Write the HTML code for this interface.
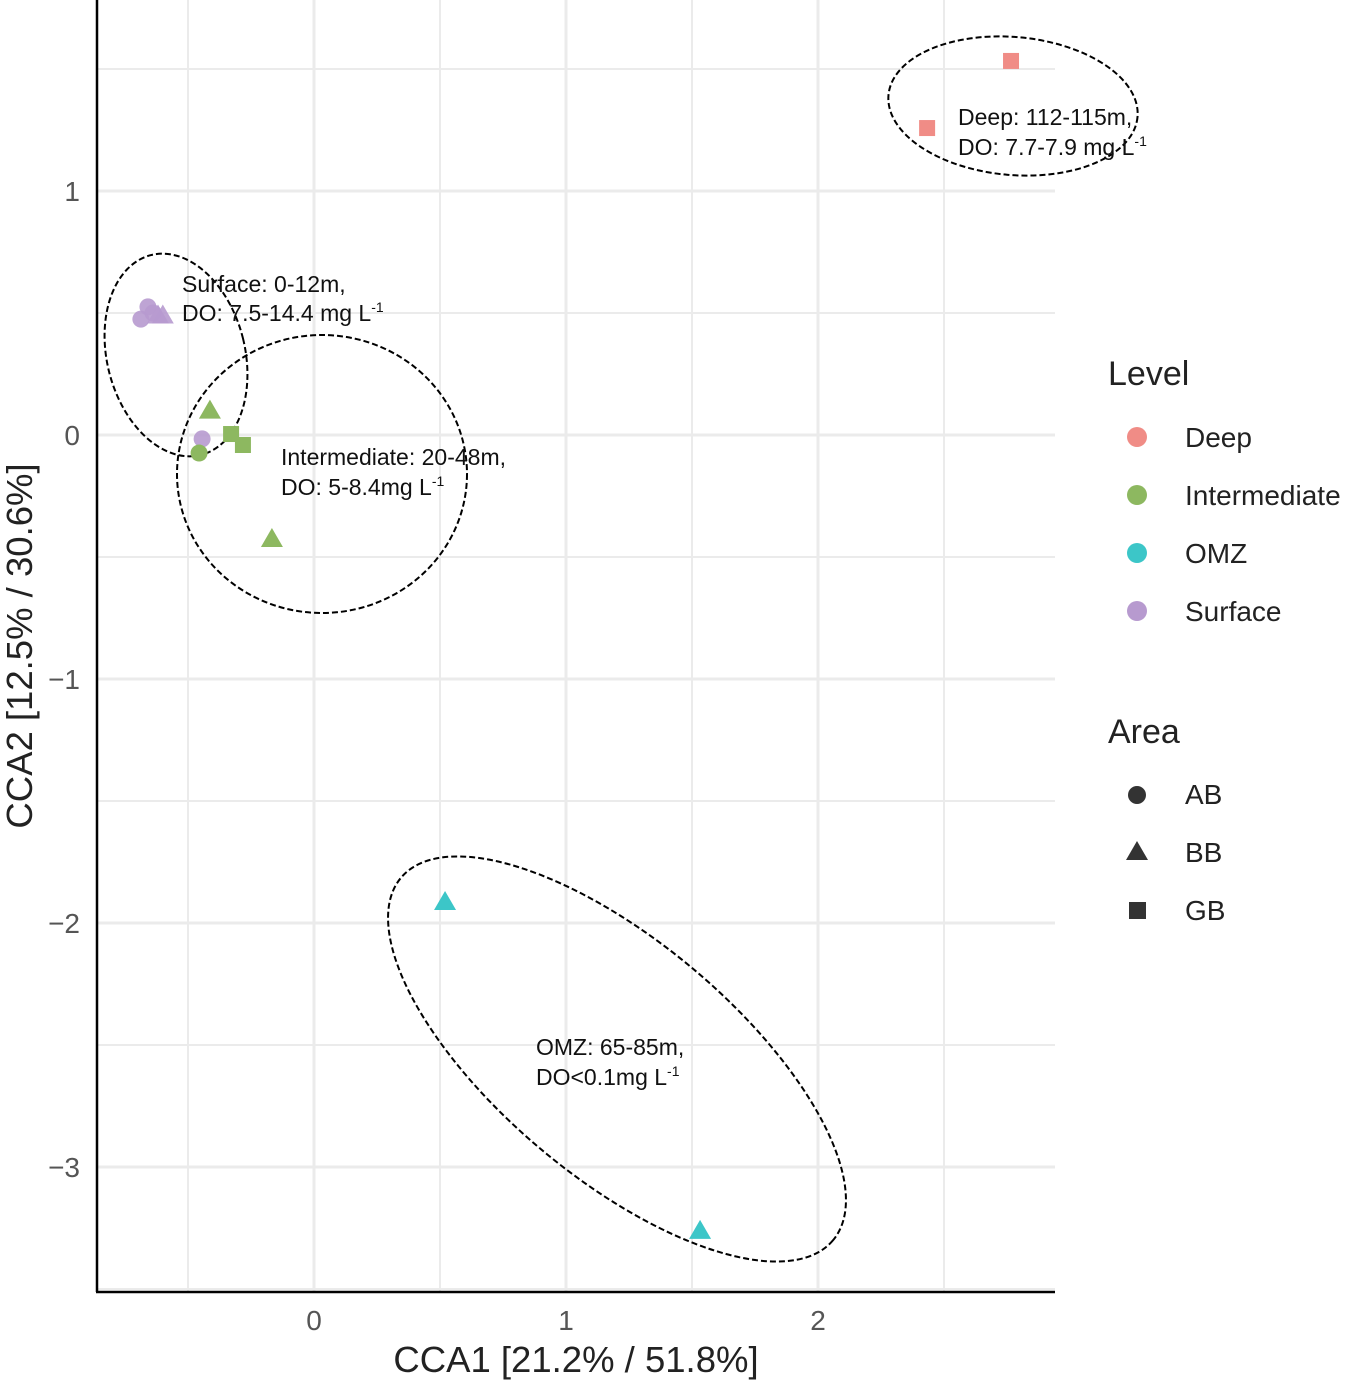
<!DOCTYPE html>
<html><head><meta charset="utf-8"><style>
body{margin:0;background:#fff;}
svg text{font-family:"Liberation Sans",Arial,sans-serif;}
</style></head><body>
<svg id="chart" width="1355" height="1383" viewBox="0 0 1355 1383">
<g id="grid"></g>
<g id="ell">
<ellipse cx="1013" cy="106" rx="125" ry="69" transform="rotate(5 1013 106)" fill="none" stroke="#000" stroke-width="2" stroke-dasharray="6,3"/>
<ellipse cx="176" cy="355" rx="69" ry="103" transform="rotate(-14 176 355)" fill="none" stroke="#000" stroke-width="2" stroke-dasharray="6,3"/>
<ellipse cx="322" cy="474" rx="145" ry="139" fill="none" stroke="#000" stroke-width="2" stroke-dasharray="6,3"/>
<ellipse cx="617" cy="1059" rx="282" ry="118" transform="rotate(40 617 1059)" fill="none" stroke="#000" stroke-width="2" stroke-dasharray="6,3"/>
</g>
<g id="pts"></g>
<g font-size="23" fill="#111">
<text x="958" y="125">Deep: 112-115m,</text>
<text x="958" y="155">DO: 7.7-7.9 mg L<tspan font-size="14" dy="-9">-1</tspan></text>
<text x="182" y="292">Surface: 0-12m,</text>
<text x="182" y="321">DO: 7.5-14.4 mg L<tspan font-size="14" dy="-9">-1</tspan></text>
<text x="281" y="465">Intermediate: 20-48m,</text>
<text x="281" y="495">DO: 5-8.4mg L<tspan font-size="14" dy="-9">-1</tspan></text>
<text x="536" y="1055">OMZ: 65-85m,</text>
<text x="536" y="1085">DO&lt;0.1mg L<tspan font-size="14" dy="-9">-1</tspan></text>
</g>
<line x1="97" y1="0" x2="97" y2="1292" stroke="#000" stroke-width="2.5"/>
<line x1="96" y1="1292" x2="1055" y2="1292" stroke="#000" stroke-width="2.5"/>
<g id="ticks" font-size="28" fill="#555"></g>
<text x="576" y="1372" font-size="36.5" text-anchor="middle" fill="#222">CCA1 [21.2% / 51.8%]</text>
<text transform="translate(32 646) rotate(-90)" font-size="36.5" text-anchor="middle" fill="#222">CCA2 [12.5% / 30.6%]</text>
<g font-size="28" fill="#222">
<text x="1108" y="385" font-size="34">Level</text>
<circle cx="1137" cy="437" r="10" fill="#F08C86"/><text x="1185" y="447">Deep</text>
<circle cx="1137" cy="495" r="10" fill="#8DB860"/><text x="1185" y="505">Intermediate</text>
<circle cx="1137" cy="553" r="10" fill="#3CC6C8"/><text x="1185" y="563">OMZ</text>
<circle cx="1137" cy="611" r="10" fill="#B79ACF"/><text x="1185" y="621">Surface</text>
<text x="1108" y="743" font-size="34">Area</text>
<circle cx="1137" cy="795" r="9" fill="#333"/><text x="1185" y="804">AB</text>
<polygon points="1137,841 1148,860 1126,860" fill="#333"/><text x="1185" y="862">BB</text>
<rect x="1129" y="902" width="17" height="17" fill="#333"/><text x="1185" y="920">GB</text>
</g>
</svg>
<script>
const xVals=[-0.687,-0.659,-0.639,-0.619,-0.600,-0.444,-0.456,-0.413,-0.329,-0.282,-0.167,0.520,1.532,2.433,2.766];
const yVals=[0.475,0.525,0.500,0.490,0.490,-0.016,-0.074,0.100,0.004,-0.041,-0.426,-1.914,-3.262,1.258,1.533];
const levels=["Surface","Surface","Surface","Surface","Surface","Surface","Intermediate","Intermediate","Intermediate","Intermediate","Intermediate","OMZ","OMZ","Deep","Deep"];
const areas=["AB","AB","AB","BB","BB","AB","AB","BB","GB","GB","BB","BB","BB","GB","GB"];
const xTicks=[0,1,2];
const yTicks=[1,0,-1,-2,-3];
const NS="http://www.w3.org/2000/svg";
const sx=v=>314+v*252, sy=v=>435-v*244;
const col={Deep:["#F08C86",1],Intermediate:["#8DB860",1],OMZ:["#3CC6C8",1],Surface:["#B79ACF",0.9]};
const grid=document.getElementById('grid');
function ln(x1,y1,x2,y2,w){const l=document.createElementNS(NS,'line');l.setAttribute('x1',x1);l.setAttribute('y1',y1);l.setAttribute('x2',x2);l.setAttribute('y2',y2);l.setAttribute('stroke','#ebebeb');l.setAttribute('stroke-width',w);


grid.appendChild(l);}
for(let v=-0.5;v<=2.6;v+=0.5){ln(sx(v),0,sx(v),1292,Number.isInteger(v)?3:2);}
for(let v=-3.5;v<=1.6;v+=0.5){if(sy(v)<1290)ln(97,sy(v),1055,sy(v),Number.isInteger(v)?3:2);}
const tk=document.getElementById('ticks');
xTicks.forEach(v=>{const t=document.createElementNS(NS,'text');t.setAttribute('x',sx(v));t.setAttribute('y',1330);t.setAttribute('text-anchor','middle');t.textContent=v;


tk.appendChild(t);});
yTicks.forEach(v=>{const t=document.createElementNS(NS,'text');t.setAttribute('x',80);t.setAttribute('y',sy(v)+10);t.setAttribute('text-anchor','end');t.textContent=v<0?'\u2212'+(-v):v;


tk.appendChild(t);});
const pts=document.getElementById('pts');
xVals.forEach((xv,i)=>{const x=sx(xv),y=sy(yVals[i]);const [c,o]=col[levels[i]];let e;
if(areas[i]==="AB"){e=document.createElementNS(NS,'circle');e.setAttribute('cx',x);e.setAttribute('cy',y);e.setAttribute('r',8.5);}
else if(areas[i]==="BB"){e=document.createElementNS(NS,'polygon');e.setAttribute('points',`${x},${y-11} ${x+11},${y+8} ${x-11},${y+8}`);}
else{e=document.createElementNS(NS,'rect');e.setAttribute('x',x-8);e.setAttribute('y',y-8);e.setAttribute('width',16);e.setAttribute('height',16);}
e.setAttribute('fill',c);e.setAttribute('opacity',o);


pts.appendChild(e);});
</script>
</body></html>
